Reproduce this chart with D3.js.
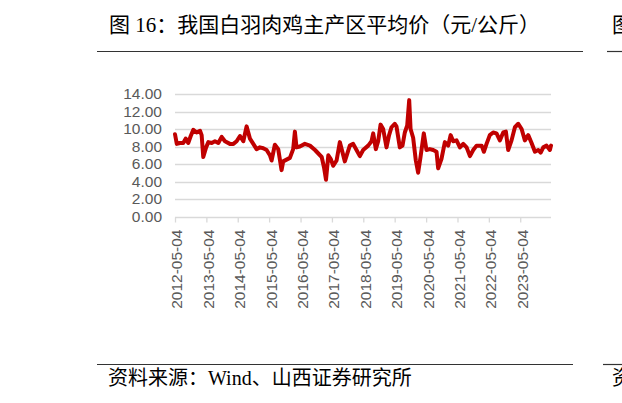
<!DOCTYPE html>
<html>
<head>
<meta charset="utf-8">
<script src="https://cdn.jsdelivr.net/npm/d3@7/dist/d3.min.js"></script>
<style>
html,body{margin:0;padding:0;background:#fff;}
svg{display:block;}
</style>
</head>
<body>
<svg id="chart" width="622" height="403"></svg>
<script>
const titleText = "图 16：我国白羽肉鸡主产区平均价（元/公斤）";
const sourceText = "资料来源：Wind、山西证券研究所";
const dates = ["2012-05-04","2012-05-25","2012-07-01","2012-08-08","2012-09-05","2012-10-05","2012-11-03","2012-12-03","2013-01-10","2013-02-19","2013-03-10","2013-03-29","2013-05-01","2013-05-27","2013-07-05","2013-08-12","2013-09-20","2013-10-29","2013-12-06","2014-02-02","2014-03-14","2014-04-21","2014-05-30","2014-07-08","2014-08-15","2014-09-23","2014-11-01","2014-12-09","2015-01-17","2015-02-25","2015-04-05","2015-05-13","2015-06-02","2015-07-10","2015-08-18","2015-09-26","2015-10-15","2015-11-23","2016-01-01","2016-02-08","2016-02-28","2016-03-18","2016-04-26","2016-06-23","2016-08-21","2016-10-19","2016-12-16","2017-01-05","2017-02-01","2017-02-24","2017-03-23","2017-04-19","2017-05-19","2017-06-27","2017-08-04","2017-10-01","2017-11-28","2018-01-06","2018-02-14","2018-03-25","2018-05-02","2018-06-30","2018-08-08","2018-08-27","2018-09-27","2018-10-24","2018-11-21","2018-12-21","2019-01-29","2019-02-28","2019-03-28","2019-05-05","2019-05-25","2019-07-03","2019-08-03","2019-08-30","2019-09-27","2019-10-20","2019-11-05","2019-12-05","2020-01-05","2020-02-01","2020-02-29","2020-04-07","2020-05-08","2020-06-16","2020-07-25","2020-09-02","2020-09-21","2020-10-30","2020-12-08","2021-01-16","2021-02-13","2021-03-15","2021-04-23","2021-06-01","2021-07-10","2021-08-18","2021-09-26","2021-11-03","2021-12-12","2022-02-09","2022-03-07","2022-04-07","2022-05-15","2022-06-23","2022-08-01","2022-09-09","2022-10-18","2022-11-18","2022-12-15","2023-01-23","2023-03-03","2023-04-11","2023-05-20","2023-06-27","2023-08-05","2023-09-13","2023-10-22","2023-11-30","2023-12-28","2024-01-27","2024-03-05","2024-04-13","2024-04-26"];
const prices = [9.4,8.3,8.4,8.4,8.9,8.4,9.2,9.9,9.6,9.8,9.3,6.8,7.9,8.5,8.4,8.6,8.4,9.1,8.6,8.3,8.3,8.6,9.2,8.6,10.3,8.9,8.3,7.7,7.9,7.8,7.6,7.0,6.4,8.2,7.7,5.3,6.3,6.5,6.7,7.7,9.7,7.9,8.0,8.3,8.1,7.6,7.0,6.8,5.6,4.2,7.0,6.6,5.8,6.4,8.5,6.3,8.1,8.3,7.6,6.9,7.6,8.1,8.6,9.5,7.7,8.6,10.5,10.0,7.9,9.3,10.2,10.6,10.3,7.9,8.1,9.6,10.4,13.3,10.0,9.0,6.4,5.0,6.8,9.5,7.6,7.7,7.6,7.4,5.5,6.6,8.5,8.1,9.3,8.6,8.7,7.9,8.3,7.9,6.9,7.6,8.1,8.1,7.4,8.3,9.3,9.6,9.5,8.7,9.6,9.7,7.6,8.7,10.2,10.6,10.0,8.7,9.3,8.4,7.4,7.6,7.3,7.9,8.1,7.6,8.1];
const xTickLabels = ["2012-05-04","2013-05-04","2014-05-04","2015-05-04","2016-05-04","2017-05-04","2018-05-04","2019-05-04","2020-05-04","2021-05-04","2022-05-04","2023-05-04"];
const yTicks = [0,2,4,6,8,10,12,14];

const parse = d3.timeParse("%Y-%m-%d");
const data = dates.map((d,i)=>({date:parse(d), value:prices[i]}));

const svg = d3.select("#chart");
const cjk = "'Liberation Serif','Times New Roman','Noto Sans CJK SC',serif";

// title
svg.append("text").attr("x",109).attr("y",31.5)
  .attr("font-family",cjk).attr("font-size",21).attr("fill","#000")
  .text(titleText);
svg.append("line").attr("x1",97).attr("x2",583).attr("y1",51.5).attr("y2",51.5)
  .attr("stroke","#333").attr("stroke-width",1.2);
svg.append("line").attr("x1",607).attr("x2",622).attr("y1",51.5).attr("y2",51.5)
  .attr("stroke","#333").attr("stroke-width",1.2);
svg.append("text").attr("x",612).attr("y",31.5)
  .attr("font-family",cjk).attr("font-size",21).attr("fill","#000").text("图");

// footer
svg.append("line").attr("x1",97).attr("x2",573).attr("y1",364.5).attr("y2",364.5)
  .attr("stroke","#333").attr("stroke-width",1.2);
svg.append("line").attr("x1",603).attr("x2",622).attr("y1",364.5).attr("y2",364.5)
  .attr("stroke","#333").attr("stroke-width",1.2);
svg.append("text").attr("x",108).attr("y",385)
  .attr("font-family",cjk).attr("font-size",20).attr("fill","#000")
  .text(sourceText);
svg.append("text").attr("x",612).attr("y",385)
  .attr("font-family",cjk).attr("font-size",20).attr("fill","#000").text("资");

// scales
const x = d3.scaleTime().domain([parse("2012-05-04"), parse("2024-04-26")]).range([175,551]);
const y = d3.scaleLinear().domain([0,14]).range([216.5,94]);

// gridlines
svg.append("g").selectAll("line").data(yTicks.filter(v=>v>0)).join("line")
  .attr("x1",175).attr("x2",551)
  .attr("y1",d=>Math.round(y(d))+0.5).attr("y2",d=>Math.round(y(d))+0.5)
  .attr("stroke","#d9d9d9").attr("stroke-width",1.3);

// y axis labels
const yAxis = d3.axisLeft(y).tickValues(yTicks).tickSize(0).tickPadding(0).tickFormat(d3.format(".2f"));
const ya = svg.append("g").attr("transform","translate(162,0)").call(yAxis);
ya.select(".domain").remove();
ya.selectAll("text").attr("font-family","'Liberation Sans',Arial,sans-serif")
  .attr("font-size",15.5).attr("fill","#595959");

// x axis
const tickDates = xTickLabels.map(parse);
const xAxis = d3.axisBottom(x).tickValues(tickDates).tickSize(5).tickFormat(d3.timeFormat("%Y-%m-%d"));
const xa = svg.append("g").attr("transform","translate(0,"+(Math.round(y(0))+0.5)+")").call(xAxis);
xa.select(".domain").attr("stroke","#d9d9d9").attr("stroke-width",1.3).attr("d","M175,0H551");
xa.selectAll(".tick line").attr("stroke","#d9d9d9").attr("stroke-width",1.3);
xa.selectAll(".tick text")
  .attr("font-family","'Liberation Sans',Arial,sans-serif")
  .attr("font-size",15.5).attr("fill","#595959")
  .attr("text-anchor","end")
  .attr("transform","translate(1.5,12) rotate(-90)")
  .attr("x",0).attr("y",0).attr("dy","0.35em");

// line
const line = d3.line().x(d=>x(d.date)).y(d=>y(d.value));
svg.append("path").datum(data).attr("d",line)
  .attr("fill","none").attr("stroke","#c00000").attr("stroke-width",4)
  .attr("stroke-linejoin","round").attr("stroke-linecap","round");
</script>
</body>
</html>
